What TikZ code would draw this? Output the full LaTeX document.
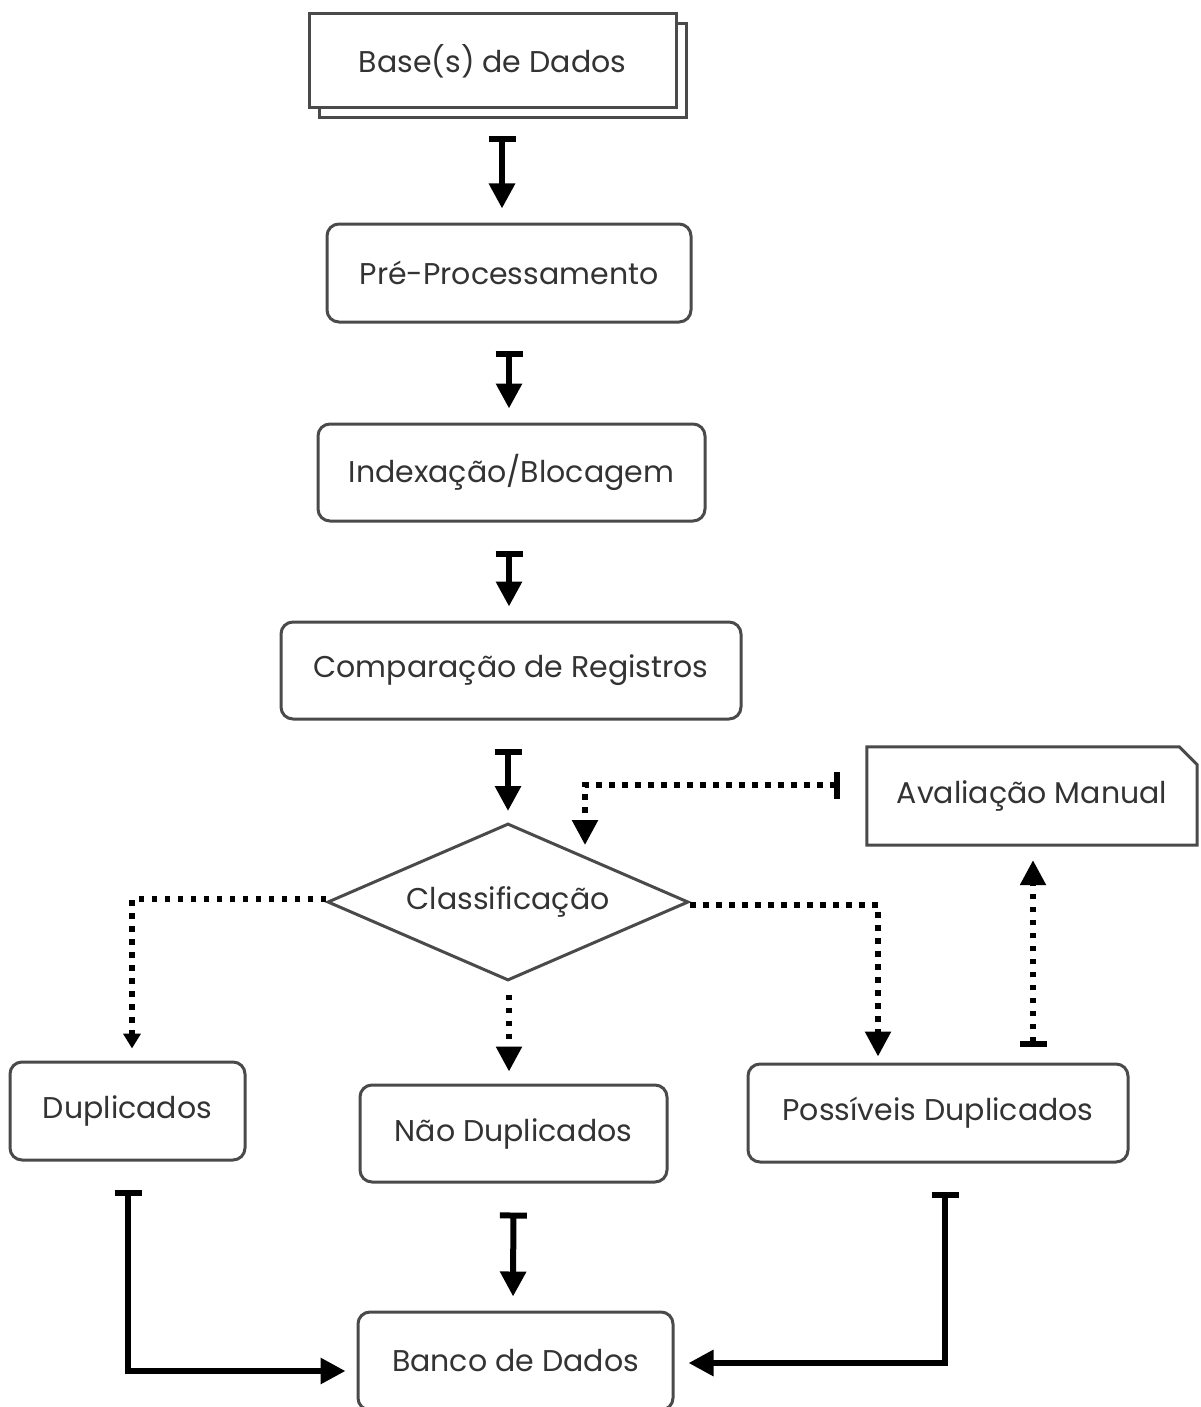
\documentclass[tikz,border=0pt]{standalone}
\usepackage{fontspec}
\setmainfont{Poppins}
\usetikzlibrary{arrows.meta,shapes.geometric,shadows,calc}
\definecolor{boxline}{HTML}{4A4A4A}
\definecolor{boxtext}{HTML}{333333}
\begin{document}
\begin{tikzpicture}[x=1pt,y=-1pt,
  every node/.style={font=\fontsize{30}{36}\selectfont, text=boxtext, inner sep=0pt},
  procbox/.style={draw=boxline, line width=3pt, rounded corners=12pt, fill=white},
  stackbox/.style={draw=boxline, line width=3pt, fill=white,
    copy shadow={shadow xshift=10pt, shadow yshift=-10pt}},
  decision/.style={diamond, aspect=2.3, draw=boxline, line width=3pt, minimum width=361pt, minimum height=157pt},
  flow/.style={line width=6pt, {Bar[width=27pt]}-{Triangle[width=25pt,length=25pt]}},
  dotted line/.style={line width=5.5pt, dash pattern=on 5.5pt off 7.5pt},
  dotflow/.style={dotted line, -{Triangle[width=25pt,length=25pt]}},
  dotbarflow/.style={dotted line, {Bar[width=27pt]}-{Triangle[width=25pt,length=25pt]}},
]
\useasboundingbox (0,0) rectangle (1200,1407);

% process boxes
\node[stackbox, minimum width=367pt, minimum height=94pt] (base) at (492.5,61) {\raisebox{3pt}{Base(s) de Dados}};
\node[procbox, minimum width=364pt, minimum height=98pt] (pre) at (509,273) {Pré-Processamento};
\node[procbox, minimum width=387pt, minimum height=97pt] (idx) at (511.5,472.5) {Indexação/Blocagem};
\node[procbox, minimum width=460pt, minimum height=97pt] (cmp) at (511,670.5) {Comparação de Registros};
\node[decision] (cls) at (508,902) {Classificação};
\node[procbox, minimum width=235pt, minimum height=98pt] (dup) at (127.5,1111) {Duplicados};
\node[procbox, minimum width=307pt, minimum height=97pt] (non) at (513.5,1133.5) {Não Duplicados};
\node[procbox, minimum width=380pt, minimum height=98pt] (pos) at (938,1113) {Possíveis Duplicados};
\node[procbox, minimum width=315pt, minimum height=98pt] (db) at (515.5,1361) {Banco de Dados};

% manual review card with a cut corner
\node[minimum width=330pt, minimum height=98pt] (av) at (1032,796) {Avaliação Manual};
\draw[draw=boxline, line width=3pt] (av.north west) -- ([xshift=-18pt]av.north east)
  -- ([yshift=-18pt]av.north east) -- (av.south east) -- (av.south west) -- cycle;

% main pipeline
\draw[flow, shorten <=27pt, shorten >=14pt] ([xshift=9.5pt]base.south) -- ([xshift=-7pt]pre.north);
\draw[flow, shorten <=27pt, shorten >=14pt] (pre.south) -- ([xshift=-2.5pt]idx.north);
\draw[flow, shorten <=28pt, shorten >=14pt] ([xshift=-2.5pt]idx.south) -- ([xshift=-2pt]cmp.north);
\draw[flow, shorten <=28pt, shorten >=11pt] ([xshift=-3pt]cmp.south) -- (cls.north);

% classification outcomes
\draw[dotted line, -{Triangle[width=17pt,length=15pt]}, shorten >=12pt]
  ([shift={(0,-3)}]cls.west) -| ([xshift=4.5pt]dup.north);
\draw[dotflow, shorten <=12.5pt, shorten >=12pt] ([xshift=1pt]cls.south) -- ([xshift=-4.5pt]non.north);
\draw[dotflow, shorten >=6pt] ([shift={(0,3)}]cls.east) -| ([xshift=-60pt]pos.north);

% manual review loop
\draw[dotbarflow, shorten <=16pt, shorten >=15pt] ([xshift=95pt]pos.north) -- ([xshift=1pt]av.south);
\draw[dotbarflow, shorten <=27pt] ([shift={(0,-11)}]av.west) -| ([shift={(77,-57)}]cls.center);

% results into the database
\draw[flow, shorten <=29pt, shorten >=14pt] (non.south) -- ([xshift=-2.5pt]db.north);
\draw[flow, shorten <=28pt, shorten >=11pt] ([xshift=0.5pt]dup.south) |- ([shift={(0,10)}]db.west);
\draw[flow, shorten <=28pt, shorten >=14pt] ([xshift=7pt]pos.south) |- ([shift={(0,2)}]db.east);
\end{tikzpicture}
\end{document}
